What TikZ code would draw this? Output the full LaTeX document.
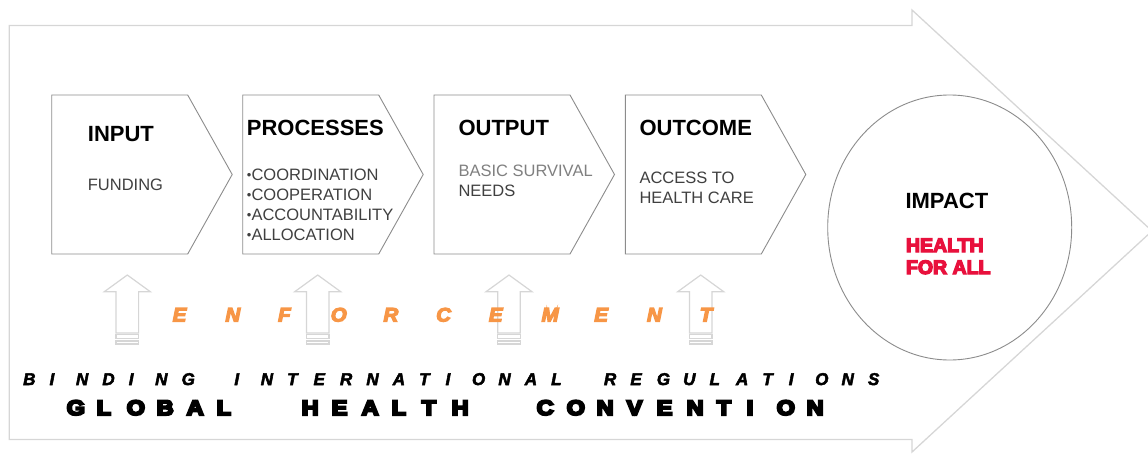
\documentclass[tikz,border=0pt]{standalone}
\usepackage{fontspec}
\setmainfont{Liberation Sans}
\definecolor{bigline}{HTML}{D6D6D6}
\definecolor{boxline}{HTML}{8C8C8C}
\definecolor{txtgray}{HTML}{404040}
\definecolor{ltgray}{HTML}{808080}
\definecolor{enforce}{HTML}{F79646}
\definecolor{hred}{HTML}{E8103C}
\newcommand\thickened[2]{\special{pdf:literal direct #1 w 2 Tr}#2\special{pdf:literal direct 0 Tr 0.4 w}}
\def\pitchw{10pt}\def\pitchs{10pt}\def\pitchx{1}
\newcommand\pitched[4][1]{\def\pitchx{#1}\def\pitchw{#2}\def\pitchs{#3}\pitchedaux#4\relax}
\def\pitchedaux#1{\ifx#1\relax\else\ifx#1-\hspace*{\pitchs}\else\makebox[\pitchw][l]{\scalebox{\pitchx}[1]{#1}}\fi\expandafter\pitchedaux\fi}
\newcommand\bul{\makebox[4.6pt][l]{\raisebox{1.2pt}{\fontsize{13}{13}\selectfont\textbullet}}}
\begin{document}
\begin{tikzpicture}[x=1pt,y=-1pt,
  bigarrow/.style={draw=bigline,line width=1.3pt},
  stage/.style={draw=boxline,line width=0.9pt,fill=white},
  upar/.style={draw=bigline,line width=1.2pt,fill=white},
  head/.style={anchor=base west,inner sep=0pt,font=\bfseries\fontsize{22}{22}\selectfont,text=black},
  body/.style={anchor=base west,inner sep=0pt,font=\fontsize{16.5}{20}\selectfont,text=txtgray,align=left},
  every node/.append style={inner sep=0pt}]
\useasboundingbox (0,0) rectangle (1148,455);
% big background arrow
\draw[bigarrow] (9.3,25.5) -- (912,25.5) -- (912,10) -- (1152,231) -- (912,452) -- (912,439.5) -- (9.3,439.5) -- cycle;
% stages
\foreach \x in {51.7,242.7,434,625.3}{
  \draw[stage] (\x,95) -- ++(136,0) -- ++(44.5,79.5) -- ++(-44.5,79.5) -- ++(-136,0) -- cycle;
}
\draw[draw=boxline,line width=0.9pt,fill=white] (949.7,227.5) ellipse[x radius=122,y radius=132.5];
% texts
\node[head] (input) at (87.7,141.7) {INPUT};
\node[body] (funding) at (87.7,190.7) {FUNDING};
\node[head] (processes) at (246.7,135) {PROCESSES};
\node[body,anchor=north west] (plist) at (246.7,168.8) {\bul COORDINATION\\\bul COOPERATION\\\bul ACCOUNTABILITY\\\bul ALLOCATION};
\node[head] (output) at (458.3,135) {OUTPUT};
\node[body] (basic) at (458.3,176) {\textcolor{ltgray}{BASIC SURVIVAL}};
\node[body] (needs) at (458.3,196.7) {NEEDS};
\node[head] (outcome) at (639.3,135) {OUTCOME};
\node[body] (access) at (639.3,183.3) {ACCESS TO};
\node[body] (care) at (639.3,203.3) {HEALTH CARE};
\node[head] (impact) at (905.3,208) {IMPACT};
\node[anchor=base west,text=hred,font=\bfseries\fontsize{19.5}{22}\selectfont] (hfa1) at (905.8,252) {\thickened{1.3}{HEALTH}};
\node[anchor=base west,text=hred,font=\bfseries\fontsize{19.5}{22}\selectfont] (hfa2) at (905.8,274) {\thickened{1.3}{FOR ALL}};
% enforcement arrows
\foreach \c in {127.3,317.7,509,700.7}{
  \draw[upar] (\c,275) -- (\c+23,291.7) -- (\c+11.3,291.7) -- (\c+11.3,333) -- (\c-11.3,333) -- (\c-11.3,291.7) -- (\c-23,291.7) -- cycle;
  \draw[upar] (\c-11.3,334.8) rectangle (\c+11.3,338.5);
  \draw[upar] (\c-11.3,341) rectangle (\c+11.3,344);
}
\node[anchor=base west,text=enforce,font=\bfseries\itshape\fontsize{19.5}{19.5}\selectfont] (enf) at (172.5,321.5) {\thickened{1.2}{\pitched[1.05]{52.7pt}{52.7pt}{ENFORCEMENT}}};
\node[anchor=base west,text=black,font=\bfseries\itshape\fontsize{17}{17}\selectfont] (bir) at (23,385) {\thickened{0.5}{\pitched{26.4pt}{26.4pt}{BINDING-INTERNATIONAL-REGULATIONS}}};
\node[anchor=base west,text=black,font=\bfseries\fontsize{21}{21}\selectfont] (ghc) at (66.5,415) {\thickened{2}{\pitched[1.12]{30pt}{27.5pt}{GLOBAL--HEALTH--CONVENTION}}};
\end{tikzpicture}
\end{document}
